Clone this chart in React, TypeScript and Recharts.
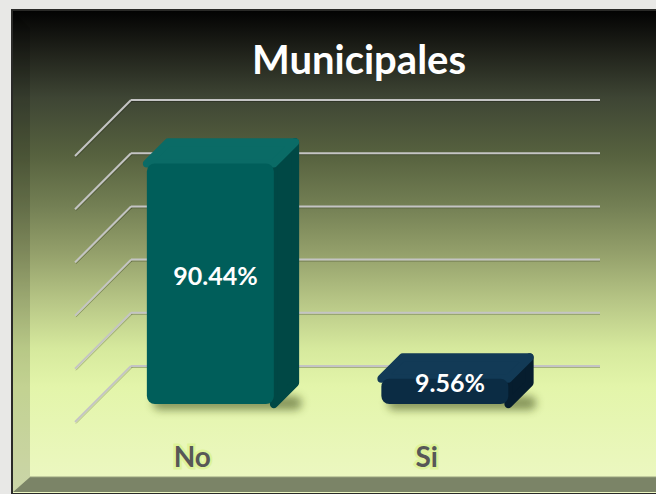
import { BarChart, Bar, XAxis, YAxis, CartesianGrid, LabelList } from "recharts";

const categories = ["No", "Si"];
const shares = [90.44, 9.56];
const shareLabels = ["90.44%", "9.56%"];
const yTicks = [0, 20, 40, 60, 80, 100];
const barColors = [
  { front: "#005e5a", top: "#0a6b66", side: "#004845" },
  { front: "#0b2c44", top: "#123a56", side: "#061d2e" },
];

const data = categories.map((name, i) => ({ name, value: shares[i], label: shareLabels[i] }));

// fake 3d: how far the floor reaches toward the viewer
const DX = -56;
const DY = 56;
const BACK = 0.3;
const FRONT = 0.68;

function Box3D(props: any) {
  const { x, y, width: w, height: h, index } = props;
  const c = barColors[index];
  const bx = x + DX * BACK;
  const by = y + DY * BACK;
  const fx = x + DX * FRONT;
  const fy = y + DY * FRONT;
  const fid = `shadow-${index}`;
  return (
    <g>
      <defs>
        <filter id={fid} x="-20%" y="-100%" width="140%" height="300%">
          <feGaussianBlur stdDeviation="4" />
        </filter>
      </defs>
      <rect
        x={fx + 6}
        y={fy + h - 8}
        width={w + 22}
        height={14}
        rx={7}
        fill="#3b4a14"
        opacity={0.55}
        filter={`url(#${fid})`}
      />
      <polygon
        points={`${fx + w},${fy} ${bx + w},${by} ${bx + w},${by + h} ${fx + w},${fy + h}`}
        fill={c.side}
        stroke={c.side}
        strokeWidth={8}
        strokeLinejoin="round"
      />
      <polygon
        points={`${fx},${fy} ${bx},${by} ${bx + w},${by} ${fx + w},${fy}`}
        fill={c.top}
        stroke={c.top}
        strokeWidth={8}
        strokeLinejoin="round"
      />
      <rect x={fx} y={fy} width={w} height={h} rx={8} fill={c.front} />
    </g>
  );
}

function ValueLabel(props: any) {
  const { x, y, width, height, value } = props;
  return (
    <text
      x={x + width / 2 - 33}
      y={y + height / 2 + 29}
      textAnchor="middle"
      dominantBaseline="central"
      fill="#ffffff"
      fontFamily="Lato, 'Open Sans', sans-serif"
      fontWeight={700}
      fontSize={25}
    >
      {value}
    </text>
  );
}

function FrontTick(props: any) {
  const { x, y, payload } = props;
  return (
    <text
      x={x + DX}
      y={y + 101}
      textAnchor="middle"
      fill="#575757"
      stroke="#d9f28c"
      strokeWidth={5}
      strokeOpacity={0.7}
      paintOrder="stroke"
      fontFamily="Lato, 'Open Sans', sans-serif"
      fontWeight={700}
      fontSize={28}
    >
      {payload.value}
    </text>
  );
}

function GridLine(p: any) {
  const { x1, y1, x2 } = p;
  return (
    <g key={p.key}>
      <line x1={x1} y1={y1 + 1.5} x2={x2} y2={y1 + 1.5} stroke="rgba(0,0,0,0.25)" strokeWidth={1} />
      <line x1={x1 + 1} y1={y1 + 1.5} x2={x1 + DX + 1} y2={y1 + DY + 1.5} stroke="rgba(0,0,0,0.25)" strokeWidth={1} />
      <line x1={x1} y1={y1} x2={x2} y2={y1} stroke="#c4c4c4" strokeWidth={2} />
      <line x1={x1} y1={y1} x2={x1 + DX} y2={y1 + DY} stroke="#c4c4c4" strokeWidth={2} />
    </g>
  );
}

export default function App() {
  return (
    <div
      style={{
        position: "absolute",
        left: 0,
        top: 0,
        width: 656,
        height: 494,
        overflow: "hidden",
        background: "#e8e8e6",
      }}
    >
      <svg width={656} height={494} style={{ position: "absolute", left: 0, top: 0 }}>
        <defs>
          <linearGradient id="panelBg" x1="0" y1="0" x2="0" y2="1">
            <stop offset="0%" stopColor="#030303" />
            <stop offset="8%" stopColor="#1e2019" />
            <stop offset="18%" stopColor="#3e4534" />
            <stop offset="30%" stopColor="#57623f" />
            <stop offset="40%" stopColor="#727e53" />
            <stop offset="50%" stopColor="#939f6a" />
            <stop offset="60%" stopColor="#b6c585" />
            <stop offset="70%" stopColor="#d6e99d" />
            <stop offset="78%" stopColor="#e3f5aa" />
            <stop offset="100%" stopColor="#edf8c4" />
          </linearGradient>
        </defs>
        <rect x={11} y={9} width={645} height={485} fill="#2a2a28" />
        <rect x={13} y={11} width={643} height={482} fill="url(#panelBg)" />
        <polygon points="13,11 30,28 30,477 13,492" fill="rgba(0,0,0,0.14)" />
        <polygon points="13,492 30,477 656,477 656,492" fill="#7b8467" />
        <line x1={30} y1={477} x2={656} y2={477} stroke="#98a27f" strokeWidth={1} />
        <text
          x={359}
          y={74}
          textAnchor="middle"
          fill="#ffffff"
          fontFamily="Lato, 'Open Sans', sans-serif"
          fontWeight={700}
          fontSize={40}
        >
          Municipales
        </text>
      </svg>
      <div style={{ position: "absolute", left: 0, top: 0 }}>
        <BarChart
          width={656}
          height={494}
          data={data}
          margin={{ top: 100, right: 56, left: 131, bottom: 98 }}
          barCategoryGap="23%"
        >
          <CartesianGrid vertical={false} horizontal={GridLine} />
          <XAxis
            dataKey="name"
            height={30}
            axisLine={false}
            tickLine={false}
            tickSize={0}
            tickMargin={0}
            tick={FrontTick}
            interval={0}
          />
          <YAxis hide width={0} domain={[0, 100]} ticks={yTicks} />
          <Bar dataKey="value" shape={Box3D} isAnimationActive={false}>
            <LabelList dataKey="label" content={ValueLabel} />
          </Bar>
        </BarChart>
      </div>
    </div>
  );
}
